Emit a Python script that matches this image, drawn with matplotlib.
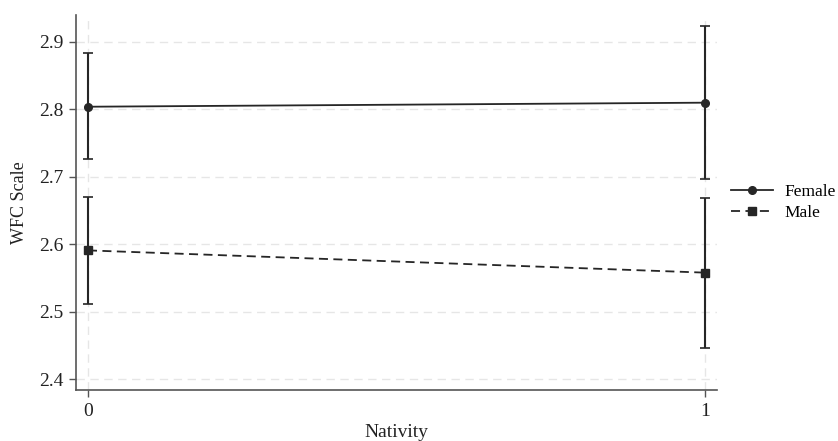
import matplotlib.pyplot as plt

# Data
nativity = [0, 1]
female_mean = [2.804, 2.810]
female_lo = [2.726, 2.697]
female_hi = [2.883, 2.924]
male_mean = [2.591, 2.558]
male_lo = [2.511, 2.447]
male_hi = [2.670, 2.669]
yticks = [2.4, 2.5, 2.6, 2.7, 2.8, 2.9]

plt.rcParams['font.family'] = ['Liberation Serif', 'DejaVu Serif']

fig = plt.figure(figsize=(8.38, 4.41), dpi=100)
ax = fig.add_axes([76 / 838, 1 - 390 / 441, (717 - 76) / 838, (390 - 15) / 441])

lc = '#262626'
f_err = [[m - l for m, l in zip(female_mean, female_lo)],
         [h - m for m, h in zip(female_mean, female_hi)]]
m_err = [[m - l for m, l in zip(male_mean, male_lo)],
         [h - m for m, h in zip(male_mean, male_hi)]]

f = ax.errorbar(nativity, female_mean, yerr=f_err, color=lc, marker='o',
                markersize=5.5, linestyle='-', lw=1.3, capsize=3.5,
                elinewidth=1.5, capthick=1.2, zorder=3)
m = ax.errorbar(nativity, male_mean, yerr=m_err, color=lc, marker='s',
                markersize=5.5, linestyle=(0, (5, 3)), lw=1.3, capsize=3.5,
                elinewidth=1.5, capthick=1.2, zorder=3)

ax.set_xlim(-0.0194, 1.0194)
ax.set_ylim(2.384, 2.94)
ax.set_xticks(nativity)
ax.set_yticks(yticks)
ax.set_yticklabels([f'{v:.1f}' for v in yticks])
ax.grid(True, color='#e6e6e6', linestyle=(0, (6, 4)), lw=1.0)
ax.set_axisbelow(True)

for s in ['top', 'right']:
    ax.spines[s].set_visible(False)
for s in ['left', 'bottom']:
    ax.spines[s].set_color('#555555')
    ax.spines[s].set_linewidth(1.2)
ax.tick_params(colors='#555555', labelcolor='#222222', labelsize=14,
               length=5, width=1.0, pad=4)

ax.set_xlabel('Nativity', fontsize=14, color='#222222', labelpad=3)
ax.set_ylabel('WFC Scale', fontsize=13, color='#222222', labelpad=8)

ax.legend([f[0], m[0]], ['Female', 'Male'], loc='center left',
          bbox_to_anchor=(1.0, 0.5), frameon=False, fontsize=12.5,
          handlelength=2.4, handletextpad=0.7, labelspacing=0.25,
          borderaxespad=0.4)

plt.savefig('out.png', dpi=100)
